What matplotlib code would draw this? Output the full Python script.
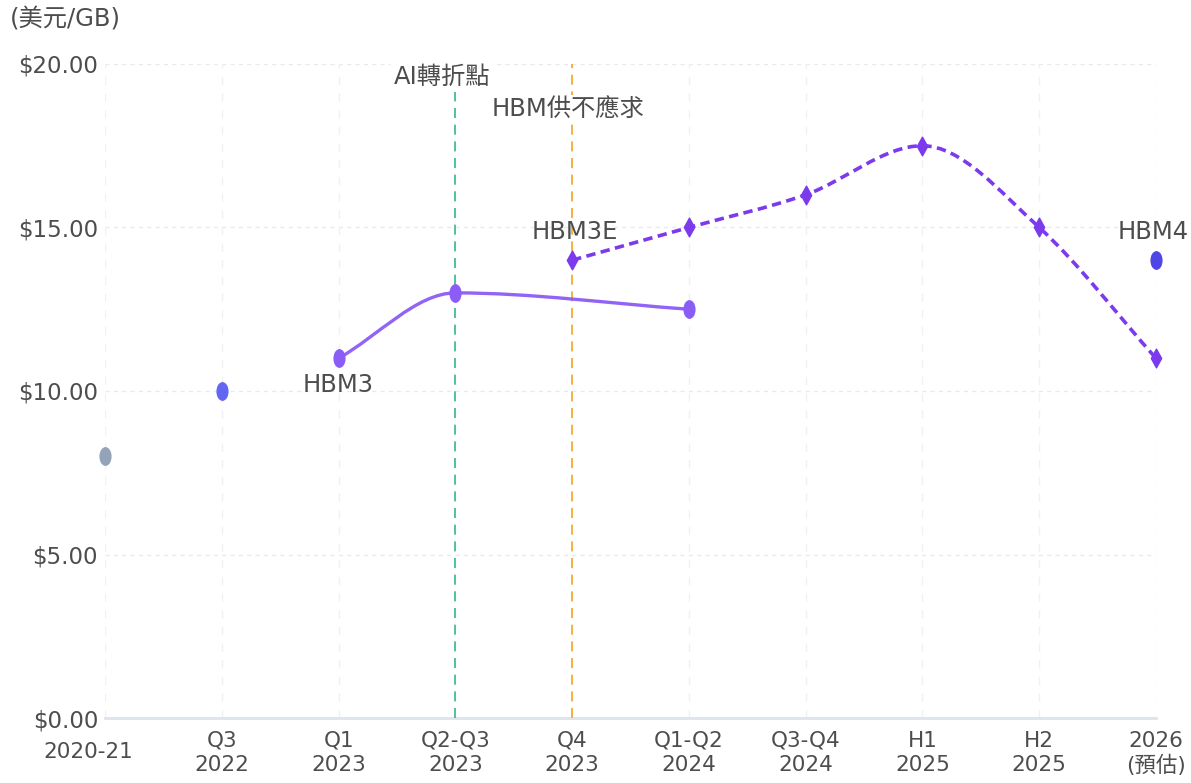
import numpy as np
import matplotlib
matplotlib.use("Agg")
import matplotlib.pyplot as plt
from matplotlib.path import Path
from matplotlib.patches import PathPatch
from matplotlib.transforms import ScaledTranslation, Affine2D

plt.rcParams['font.family'] = ['DejaVu Sans', 'Noto Sans CJK TC']

categories = ["2020-21", "Q3\n2022", "Q1\n2023", "Q2-Q3\n2023", "Q4\n2023",
              "Q1-Q2\n2024", "Q3-Q4\n2024", "H1\n2025", "H2\n2025", "2026\n(預估)"]
yticks = [0, 5, 10, 15, 20]
ytick_labels = ["$0.00", "$5.00", "$10.00", "$15.00", "$20.00"]

hbm_idx, hbm_price = [0], [8.0]
hbm2e_idx, hbm2e_price = [1], [10.0]
hbm3_idx, hbm3_price = [2, 3, 5], [11.0, 13.0, 12.5]
hbm3e_idx, hbm3e_price = [4, 5, 6, 7, 8, 9], [14.0, 15.0, 16.0, 17.5, 15.0, 11.0]
hbm4_idx, hbm4_price = [9], [14.0]

label_color = "#4d4d4d"

# tall ellipse / narrow diamond markers like the original
ellipse = Path.unit_circle().transformed(Affine2D().scale(0.62, 1.0))
diamond = Path([(0, 1), (0.55, 0), (0, -1), (-0.55, 0), (0, 1)],
               [Path.MOVETO, Path.LINETO, Path.LINETO, Path.LINETO, Path.CLOSEPOLY])


def monotone_path(xs, ys):
    # monotone cubic (Fritsch-Carlson) as bezier segments
    xs = np.asarray(xs, float)
    ys = np.asarray(ys, float)
    n = len(xs)
    d = np.diff(ys) / np.diff(xs)
    m = np.zeros(n)
    m[0], m[-1] = d[0], d[-1]
    for i in range(1, n - 1):
        if d[i - 1] * d[i] <= 0:
            m[i] = 0
        else:
            m[i] = (d[i - 1] + d[i]) / 2
    for i in range(n - 1):
        if d[i] == 0:
            m[i] = m[i + 1] = 0
            continue
        a, b = m[i] / d[i], m[i + 1] / d[i]
        s = a * a + b * b
        if s > 9:
            t = 3 / np.sqrt(s)
            m[i], m[i + 1] = t * a * d[i], t * b * d[i]
    verts = [(xs[0], ys[0])]
    codes = [Path.MOVETO]
    for i in range(n - 1):
        h = (xs[i + 1] - xs[i]) / 3
        verts += [(xs[i] + h, ys[i] + m[i] * h),
                  (xs[i + 1] - h, ys[i + 1] - m[i + 1] * h),
                  (xs[i + 1], ys[i + 1])]
        codes += [Path.CURVE4] * 3
    return Path(verts, codes)


fig = plt.figure(figsize=(11.91, 7.83), dpi=100)
ax = fig.add_axes([0.0882, 0.083, 0.8824, 0.8353])
ax.set_xlim(0, 9)
ax.set_ylim(0, 20)

# grid
for v in yticks[1:]:
    ax.axhline(v, color="#e6ebf1", lw=1, ls=(0, (3, 3)), zorder=0)
for i in range(len(categories)):
    ax.axvline(i, color="#eef1f5", lw=1, ls=(0, (6, 6)), zorder=0)
ax.axhline(0, color="#dde4ee", lw=2, zorder=1, clip_on=False)
for s in ax.spines.values():
    s.set_visible(False)

# milestone lines
ax.axvline(3, color="#34b98a", lw=1.2, ls=(0, (6, 4)), zorder=1)
ax.axvline(4, color="#f5a623", lw=1.2, ls=(0, (6, 4)), zorder=1)
ax.text(3, 19.6, "AI轉折點", ha="center", va="center", fontsize=17.5, color=label_color,
        transform=ax.transData + ScaledTranslation(-13 / 100, 0, fig.dpi_scale_trans),
        bbox=dict(facecolor="white", edgecolor="none", pad=2), zorder=2)
ax.text(4, 18.6, "HBM供不應求", ha="center", va="center", fontsize=17.5, color=label_color,
        transform=ax.transData + ScaledTranslation(-4 / 100, 0, fig.dpi_scale_trans),
        bbox=dict(facecolor="white", edgecolor="none", pad=2), zorder=2)

# series
ax.plot(hbm_idx, hbm_price, ls="none", marker=ellipse, ms=12.5, color="#94a3b8",
        clip_on=False, zorder=4)
ax.plot(hbm2e_idx, hbm2e_price, ls="none", marker=ellipse, ms=12.5, color="#6366f1",
        clip_on=False, zorder=4)

ax.add_patch(PathPatch(monotone_path(hbm3_idx, hbm3_price), fill=False,
                       edgecolor="#8b5cf6", lw=2.4, zorder=3, alpha=0.95))
ax.plot(hbm3_idx, hbm3_price, ls="none", marker=ellipse, ms=12.5, color="#8b5cf6",
        clip_on=False, zorder=4)

ax.add_patch(PathPatch(monotone_path(hbm3e_idx, hbm3e_price), fill=False,
                       edgecolor="#7c3aed", lw=2.6, ls=(0, (2.6, 1.5)), zorder=3,
                       capstyle="butt"))
ax.plot(hbm3e_idx, hbm3e_price, ls="none", marker=diamond, ms=13.5, color="#7c3aed",
        clip_on=False, zorder=4)

ax.plot(hbm4_idx, hbm4_price, ls="none", marker=ellipse, ms=12.5, color="#4f46e5",
        clip_on=False, zorder=4)

# series labels
ax.annotate("HBM3", (hbm3_idx[0], hbm3_price[0]), xytext=(0, -19), textcoords="offset points",
            ha="center", va="center", fontsize=17.5, color=label_color)
ax.annotate("HBM3E", (hbm3e_idx[0], hbm3e_price[0]), xytext=(2, 20), textcoords="offset points",
            ha="center", va="center", fontsize=17.5, color=label_color)
ax.annotate("HBM4", (hbm4_idx[0], hbm4_price[0]), xytext=(-2, 20), textcoords="offset points",
            ha="center", va="center", fontsize=17.5, color=label_color)

# axes labels
ax.set_yticks(yticks)
ax.set_yticklabels(ytick_labels)
ax.set_xticks(range(len(categories)))
ax.set_xticklabels(categories, linespacing=1.25)
ax.tick_params(axis="both", length=0, colors=label_color)
ax.tick_params(axis="y", pad=5, labelsize=16.5)
ax.tick_params(axis="x", pad=9, labelsize=15.5)
first = ax.get_xticklabels()[0]
first.set_transform(first.get_transform() + ScaledTranslation(-17 / 100, -11 / 100, fig.dpi_scale_trans))

fig.text(10 / 1191, 1 - 20 / 783, "(美元/GB)", ha="left", va="center", fontsize=17.5,
         color=label_color)

fig.savefig("out.png", dpi=100, facecolor="white")
